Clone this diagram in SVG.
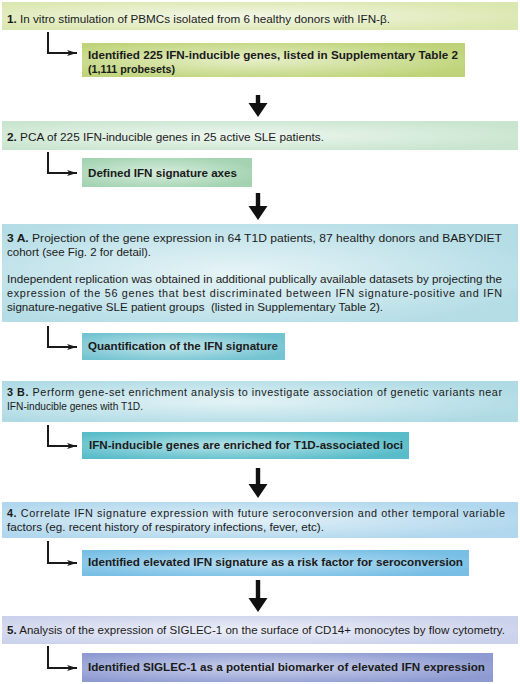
<svg xmlns="http://www.w3.org/2000/svg" width="520" height="684" viewBox="0 0 520 684">
<style>
.t{font-family:"Liberation Sans",Arial,sans-serif;font-size:10.8px;fill:#1a1a1a}
.b{font-weight:bold}
.el{fill:none;stroke:#1a1a1a;stroke-width:2}
.big{fill:#111}
</style>
<defs>
<marker id="ah" markerUnits="userSpaceOnUse" markerWidth="12" markerHeight="8" refX="10" refY="3" orient="auto">
<path d="M0,0 L10,3 L0,6 L2.5,3 z" fill="#1a1a1a"/>
</marker>
<radialGradient id="g1" cx="0.45" cy="0.5" r="0.6"><stop offset="0" stop-color="#f3f7e6"/><stop offset="1" stop-color="#dbe7b0"/></radialGradient>
<radialGradient id="g1b" cx="0.45" cy="0.5" r="0.6"><stop offset="0" stop-color="#e6efc8"/><stop offset="1" stop-color="#bfd47a"/></radialGradient>
<radialGradient id="g2" cx="0.45" cy="0.5" r="0.6"><stop offset="0" stop-color="#eef7f0"/><stop offset="1" stop-color="#c9e5cf"/></radialGradient>
<radialGradient id="g2b" cx="0.45" cy="0.5" r="0.6"><stop offset="0" stop-color="#d6ecdd"/><stop offset="1" stop-color="#a3d3b1"/></radialGradient>
<radialGradient id="g3a" cx="0.45" cy="0.5" r="0.6"><stop offset="0" stop-color="#e6f4f7"/><stop offset="1" stop-color="#b5dde6"/></radialGradient>
<radialGradient id="g3ab" cx="0.45" cy="0.5" r="0.6"><stop offset="0" stop-color="#c0e5eb"/><stop offset="1" stop-color="#74c3d1"/></radialGradient>
<radialGradient id="g3b" cx="0.45" cy="0.5" r="0.6"><stop offset="0" stop-color="#e3f3f6"/><stop offset="1" stop-color="#b0dbe5"/></radialGradient>
<radialGradient id="g3bb" cx="0.45" cy="0.5" r="0.6"><stop offset="0" stop-color="#b6e2e7"/><stop offset="1" stop-color="#58bcc9"/></radialGradient>
<radialGradient id="g4" cx="0.45" cy="0.5" r="0.6"><stop offset="0" stop-color="#e3f1f9"/><stop offset="1" stop-color="#b0d7ed"/></radialGradient>
<radialGradient id="g4b" cx="0.45" cy="0.5" r="0.6"><stop offset="0" stop-color="#b9def2"/><stop offset="1" stop-color="#78bfe5"/></radialGradient>
<radialGradient id="g5" cx="0.45" cy="0.5" r="0.6"><stop offset="0" stop-color="#eceef8"/><stop offset="1" stop-color="#cbd2eb"/></radialGradient>
<radialGradient id="g5b" cx="0.45" cy="0.5" r="0.6"><stop offset="0" stop-color="#cbd1ec"/><stop offset="1" stop-color="#8e9bd1"/></radialGradient>
</defs>
<rect width="520" height="684" fill="#fff"/>

<g id="step1">
<rect x="2" y="2" width="516" height="28" fill="url(#g1)"/>
<text class="t" x="7" y="23" textLength="383" lengthAdjust="spacingAndGlyphs"><tspan class="b">1.</tspan> In vitro stimulation of PBMCs isolated from 6 healthy donors with IFN-β.</text>
</g>
<g id="result1">
<rect x="82" y="43" width="383" height="34" fill="url(#g1b)"/>
<text class="t b" x="88" y="59" textLength="370" lengthAdjust="spacingAndGlyphs">Identified 225 IFN-inducible genes, listed in Supplementary Table 2</text>
<text class="t b" x="88" y="73" textLength="87" lengthAdjust="spacingAndGlyphs">(1,111 probesets)</text>
</g>

<g id="step2">
<rect x="2" y="121" width="516" height="29" fill="url(#g2)"/>
<text class="t" x="7" y="141" textLength="317" lengthAdjust="spacingAndGlyphs"><tspan class="b">2.</tspan> PCA of 225 IFN-inducible genes in 25 active SLE patients.</text>
</g>
<g id="result2">
<rect x="82" y="158" width="170" height="29" fill="url(#g2b)"/>
<text class="t b" x="88" y="177" textLength="149" lengthAdjust="spacingAndGlyphs">Defined IFN signature axes</text>
</g>

<g id="step3a">
<rect x="2" y="224" width="516" height="98" fill="url(#g3a)"/>
<text class="t" x="7" y="242" textLength="495" lengthAdjust="spacingAndGlyphs"><tspan class="b">3 A.</tspan> Projection of the gene expression in 64 T1D patients, 87 healthy donors and BABYDIET</text>
<text class="t" x="7" y="256" textLength="144" lengthAdjust="spacingAndGlyphs">cohort (see Fig. 2 for detail).</text>
<text class="t" x="7" y="283" textLength="495" lengthAdjust="spacingAndGlyphs">Independent replication was obtained in additional publically available datasets by projecting the</text>
<text class="t" x="7" y="297" textLength="495" lengthAdjust="spacing">expression of the 56 genes that best discriminated between IFN signature-positive and IFN</text>
<text class="t" x="7" y="311" textLength="376" lengthAdjust="spacingAndGlyphs" xml:space="preserve">signature-negative SLE patient groups  (listed in Supplementary Table 2).</text>
</g>
<g id="result3a">
<rect x="82" y="333" width="203" height="27" fill="url(#g3ab)"/>
<text class="t b" x="88" y="350" textLength="190" lengthAdjust="spacingAndGlyphs">Quantification of the IFN signature</text>
</g>

<g id="step3b">
<rect x="2" y="381" width="516" height="41" fill="url(#g3b)"/>
<text class="t" x="7" y="396" textLength="495" lengthAdjust="spacing"><tspan class="b">3 B.</tspan> Perform gene-set enrichment analysis to investigate association of genetic variants near</text>
<text class="t" x="7" y="410" textLength="136" lengthAdjust="spacingAndGlyphs">IFN-inducible genes with T1D.</text>
</g>
<g id="result3b">
<rect x="82" y="432" width="327" height="27" fill="url(#g3bb)"/>
<text class="t b" x="89" y="449" textLength="314" lengthAdjust="spacingAndGlyphs">IFN-inducible genes are enriched for T1D-associated loci</text>
</g>

<g id="step4">
<rect x="2" y="502" width="516" height="36" fill="url(#g4)"/>
<text class="t" x="7" y="517" textLength="498" lengthAdjust="spacing"><tspan class="b">4.</tspan> Correlate IFN signature expression with future seroconversion and other temporal variable</text>
<text class="t" x="7" y="531" textLength="317" lengthAdjust="spacingAndGlyphs">factors (eg. recent history of respiratory infections, fever, etc).</text>
</g>
<g id="result4">
<rect x="82" y="550" width="387" height="26" fill="url(#g4b)"/>
<text class="t b" x="88" y="566" textLength="375" lengthAdjust="spacingAndGlyphs">Identified elevated IFN signature as a risk factor for seroconversion</text>
</g>

<g id="step5">
<rect x="2" y="616" width="516" height="28" fill="url(#g5)"/>
<text class="t" x="7" y="634" textLength="498" lengthAdjust="spacingAndGlyphs"><tspan class="b">5.</tspan> Analysis of the expression of SIGLEC-1 on the surface of CD14+ monocytes by flow cytometry.</text>
</g>
<g id="result5">
<rect x="82" y="653" width="411" height="29" fill="url(#g5b)"/>
<text class="t b" x="88" y="671" textLength="397" lengthAdjust="spacingAndGlyphs">Identified SIGLEC-1 as a potential biomarker of elevated IFN expression</text>
</g>

<g id="connectors">
<path class="el" d="M48,32 V53 H77" marker-end="url(#ah)"/>
<path class="el" d="M48,152 V173 H77" marker-end="url(#ah)"/>
<path class="el" d="M48,326 V347 H77" marker-end="url(#ah)"/>
<path class="el" d="M48,425 V446 H77" marker-end="url(#ah)"/>
<path class="el" d="M48,541 V563 H77" marker-end="url(#ah)"/>
<path class="el" d="M48,646 V668 H77" marker-end="url(#ah)"/>
<polygon class="big" points="255.8,95 260.2,95 260.2,103 267.5,103 258,117 248.5,103 255.8,103"/>
<polygon class="big" points="255.8,193 260.2,193 260.2,206 267.5,206 258,220 248.5,206 255.8,206"/>
<polygon class="big" points="255.8,468 260.2,468 260.2,484 267.5,484 258,498 248.5,484 255.8,484"/>
<polygon class="big" points="255.8,580 260.2,580 260.2,598 267.5,598 258,612 248.5,598 255.8,598"/>
</g>
</svg>
